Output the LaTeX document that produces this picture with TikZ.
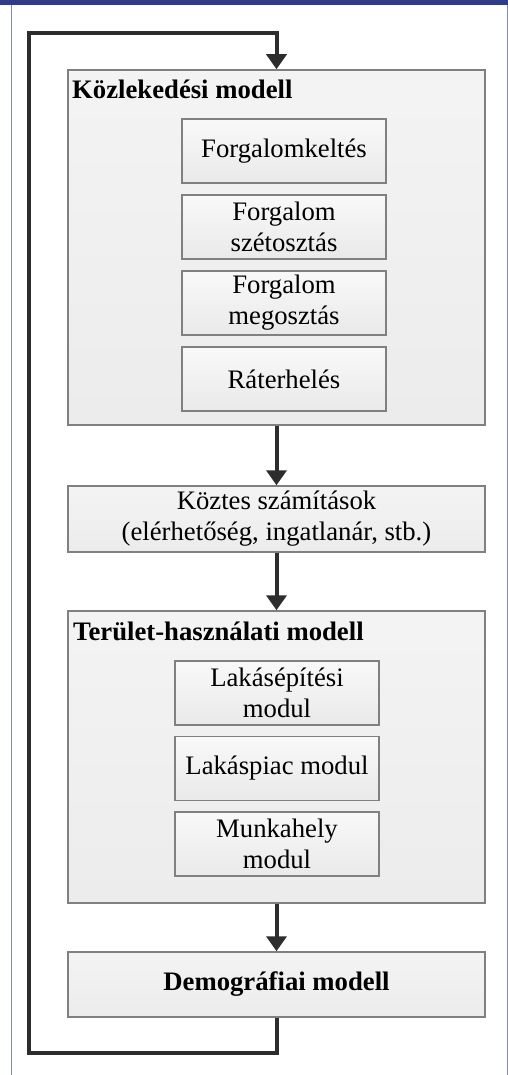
\documentclass[tikz,border=0pt]{standalone}
\usepackage{fontspec}
\setmainfont{Liberation Serif}
\usetikzlibrary{positioning,arrows.meta}

\definecolor{framblue}{RGB}{46,60,138}
\definecolor{boxline}{RGB}{128,128,128}
\definecolor{connline}{RGB}{45,45,45}

\newcommand{\boxfont}{\fontsize{26.7}{31}\selectfont}

\tikzset{
  outerbox/.style={rectangle, draw=boxline, line width=1.5pt, top color=gray!9, bottom color=gray!15, minimum width=417pt, inner sep=0pt},
  innerbox/.style={rectangle, draw=boxline, line width=1.5pt, top color=gray!5, bottom color=gray!17, minimum width=204pt, minimum height=64pt, inner sep=0pt, align=center},
  boxtitle/.style={anchor=base west, inner sep=0pt, font=\boxfont\bfseries},
  conn/.style={draw=connline, line width=4pt, -{Triangle[width=20pt,length=15pt]}}
}

\begin{document}
\begin{tikzpicture}[x=1pt, y=-1pt, node distance=10.5pt, font=\boxfont]
  \useasboundingbox (0,0) rectangle (508,1075);
  % frame
  \fill[framblue] (0,0) rectangle (508,5);
  \draw[framblue!60, line width=1pt] (11,5) -- (11,1075);
  \draw[framblue!60, line width=1pt] (507,5) -- (507,1075);

  % transport model
  \node[outerbox, minimum height=355pt] (kozl) at (276.5,247.5) {};
  \node[boxtitle] (kozltitle) at (72,99) {Közlekedési modell};
  \node[innerbox] (keltes) at (284,151) {Forgalomkeltés};
  \node[innerbox, below=of keltes] (szetoszt) {Forgalom\\szétosztás};
  \node[innerbox, below=of szetoszt] (megoszt) {Forgalom\\megosztás};
  \node[innerbox, below=of megoszt] (rater) {Ráterhelés};

  % intermediate
  \node[outerbox, minimum height=66pt, align=center, below=59.5pt of kozl] (koztes) {Köztes számítások\\(elérhetőség, ingatlanár, stb.)};

  % land use model
  \node[outerbox, minimum height=292pt, below=57.5pt of koztes] (terulet) {};
  \node[boxtitle] (terulettitle) at (73,640) {Terület-használati modell};
  \node[innerbox] (lakasep) at (277,693) {Lakásépítési\\modul};
  \node[innerbox, below=10pt of lakasep] (lakaspiac) {Lakáspiac modul};
  \node[innerbox, below=10pt of lakaspiac] (munka) {Munkahely\\modul};

  % demography
  \node[outerbox, minimum height=65pt, font=\boxfont\bfseries, below=47.5pt of terulet] (demo) {Demográfiai modell};

  \draw[conn] (kozl) -- (koztes);
  \draw[conn] (koztes) -- (terulet);
  \draw[conn] (terulet) -- (demo);

  % feedback loop
  \coordinate (loopbot) at (29,1053);
  \coordinate (looptop) at (29,33);
  \draw[conn] (demo.south) |- (loopbot) -- (looptop) -| (kozl.north);
\end{tikzpicture}
\end{document}
